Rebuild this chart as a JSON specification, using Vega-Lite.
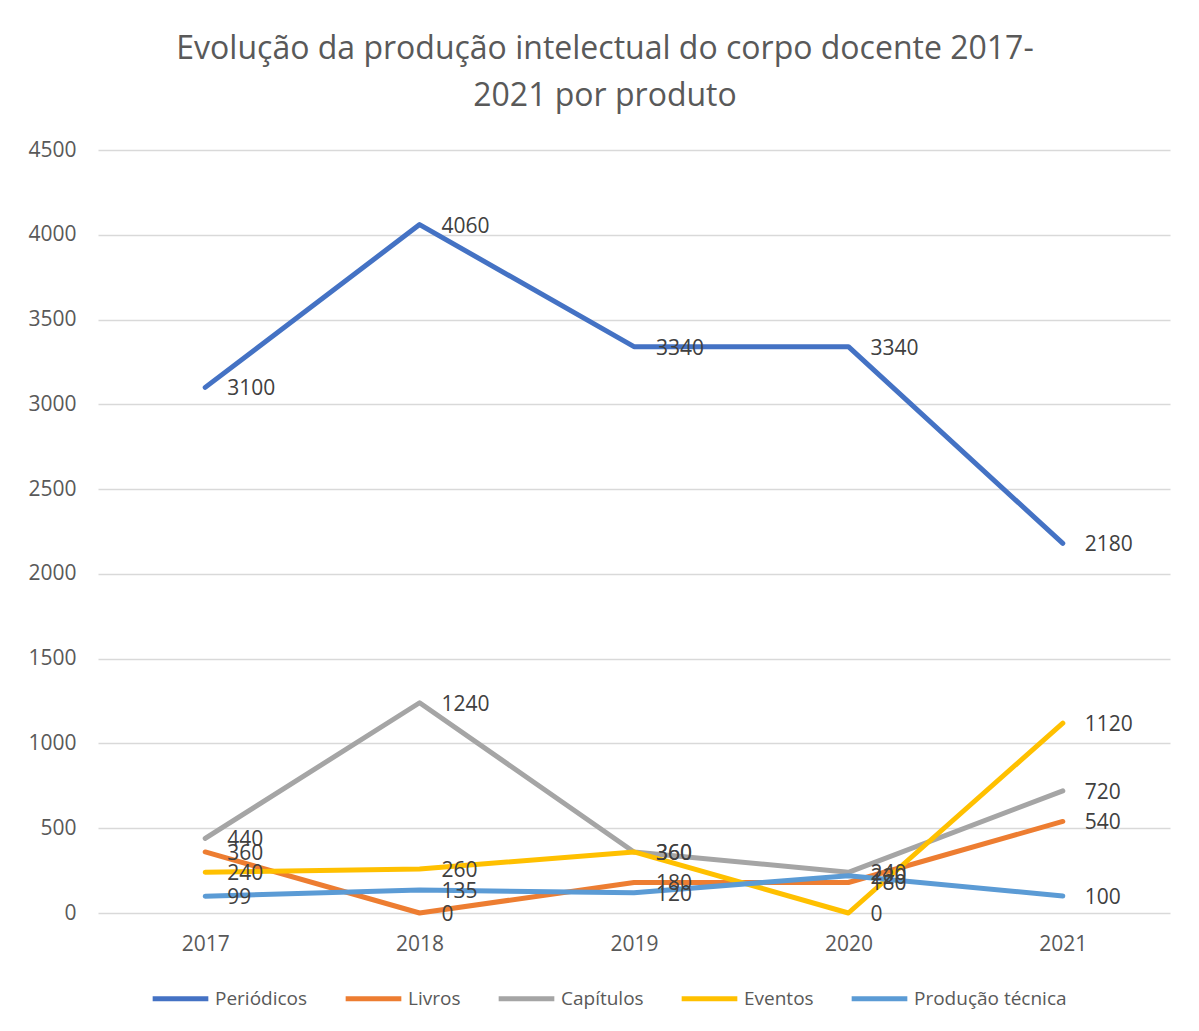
{
  "$schema": "https://vega.github.io/schema/vega-lite/v6.json",
  "width": 1072,
  "height": 763,
  "autosize": {"type": "none"},
  "padding": {"left": 98, "top": 150, "right": 29, "bottom": 118},
  "background": "white",
  "title": {
    "text": ["Evolução da produção intelectual do corpo docente 2017-", "2021 por produto"],
    "fontSize": 32,
    "font": "Open Sans",
    "fontWeight": "normal",
    "color": "#595959",
    "anchor": "middle",
    "dx": -29,
    "offset": 26,
    "lineHeight": 47
  },
  "data": {
    "values": [
      {"ano": "2017", "produto": "Periódicos", "valor": 3100},
      {"ano": "2018", "produto": "Periódicos", "valor": 4060},
      {"ano": "2019", "produto": "Periódicos", "valor": 3340},
      {"ano": "2020", "produto": "Periódicos", "valor": 3340},
      {"ano": "2021", "produto": "Periódicos", "valor": 2180},
      {"ano": "2017", "produto": "Livros", "valor": 360},
      {"ano": "2018", "produto": "Livros", "valor": 0},
      {"ano": "2019", "produto": "Livros", "valor": 180},
      {"ano": "2020", "produto": "Livros", "valor": 180},
      {"ano": "2021", "produto": "Livros", "valor": 540},
      {"ano": "2017", "produto": "Capítulos", "valor": 440},
      {"ano": "2018", "produto": "Capítulos", "valor": 1240},
      {"ano": "2019", "produto": "Capítulos", "valor": 360},
      {"ano": "2020", "produto": "Capítulos", "valor": 240},
      {"ano": "2021", "produto": "Capítulos", "valor": 720},
      {"ano": "2017", "produto": "Eventos", "valor": 240},
      {"ano": "2018", "produto": "Eventos", "valor": 260},
      {"ano": "2019", "produto": "Eventos", "valor": 360},
      {"ano": "2020", "produto": "Eventos", "valor": 0},
      {"ano": "2021", "produto": "Eventos", "valor": 1120},
      {"ano": "2017", "produto": "Produção técnica", "valor": 99},
      {"ano": "2018", "produto": "Produção técnica", "valor": 135},
      {"ano": "2019", "produto": "Produção técnica", "valor": 120},
      {"ano": "2020", "produto": "Produção técnica", "valor": 220},
      {"ano": "2021", "produto": "Produção técnica", "valor": 100}
    ]
  },
  "encoding": {
    "x": {
      "field": "ano",
      "type": "ordinal",
      "scale": {"type": "point", "padding": 0.5},
      "axis": {
        "title": null,
        "labelAngle": 0,
        "labelFontSize": 21,
        "labelColor": "#595959",
        "labelFont": "Open Sans",
        "ticks": false,
        "domain": false,
        "grid": false,
        "labelPadding": 20
      }
    },
    "y": {
      "field": "valor",
      "type": "quantitative",
      "scale": {"domain": [0, 4500]},
      "axis": {
        "title": null,
        "format": "d",
        "values": [0, 500, 1000, 1500, 2000, 2500, 3000, 3500, 4000, 4500],
        "labelFontSize": 21,
        "labelColor": "#595959",
        "labelFont": "Open Sans",
        "ticks": false,
        "domain": false,
        "gridColor": "#D9D9D9",
        "gridWidth": 1.3,
        "labelPadding": 22
      }
    },
    "color": {
      "field": "produto",
      "type": "nominal",
      "scale": {
        "domain": ["Periódicos", "Livros", "Capítulos", "Eventos", "Produção técnica"],
        "range": ["#4472C4", "#ED7D31", "#A5A5A5", "#FFC000", "#5B9BD5"]
      },
      "legend": {
        "title": null,
        "orient": "none",
        "legendX": 52,
        "legendY": 818,
        "direction": "horizontal",
        "symbolType": "stroke",
        "symbolStrokeWidth": 5,
        "symbolSize": 3100,
        "labelFontSize": 19,
        "labelFont": "Open Sans",
        "labelColor": "#595959",
        "columnPadding": 27,
        "labelOffset": 4
      }
    }
  },
  "layer": [
    {
      "mark": {"type": "line", "strokeWidth": 5, "strokeCap": "round", "strokeJoin": "round"}
    },
    {
      "mark": {"type": "text", "align": "left", "baseline": "middle", "dx": 22, "dy": 2, "fontSize": 21, "font": "Open Sans", "color": "#404040"},
      "encoding": {
        "text": {"field": "valor", "type": "quantitative"},
        "color": {"value": "#404040"}
      }
    }
  ],
  "config": {"view": {"stroke": null}}
}
